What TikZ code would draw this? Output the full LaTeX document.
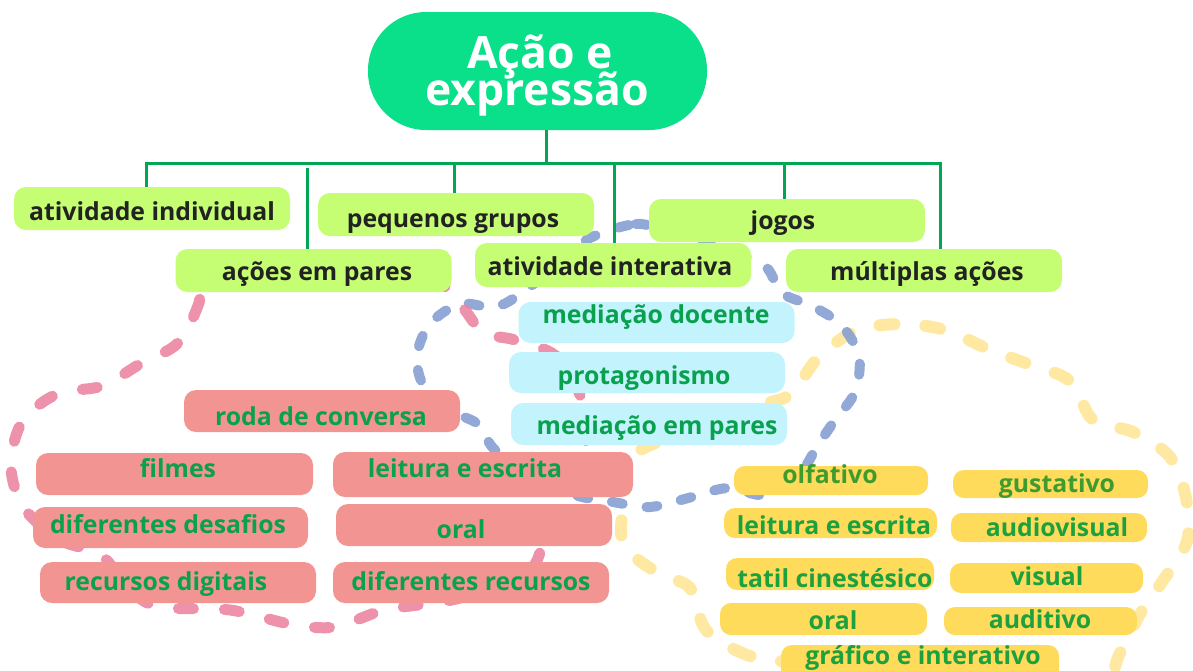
\documentclass[tikz,border=0pt]{standalone}
\usepackage{fontspec}
\IfFontExistsTF{Open Sans Bold}{%
  \setmainfont{Open Sans}[BoldFont={Open Sans Bold}]%
}{%
  \setmainfont{Noto Sans}[AutoFakeBold=2.2]%
}
\definecolor{titleG}{HTML}{0ADF8A}
\definecolor{connG}{HTML}{00A652}
\definecolor{limeF}{HTML}{C5FE72}
\definecolor{darktxt}{HTML}{222222}
\definecolor{cyanF}{HTML}{C3F3FD}
\definecolor{txtG}{HTML}{0AA14E}
\definecolor{salmonF}{HTML}{F29592}
\definecolor{yellowF}{HTML}{FFDB5C}
\definecolor{ytxt}{HTML}{1DA13E}
\definecolor{otxt}{HTML}{3F9B2D}
\definecolor{pinkL}{HTML}{EC86A2}
\definecolor{blueL}{HTML}{869FD3}
\definecolor{yellowL}{HTML}{FFE9A2}
\begin{document}
\begin{tikzpicture}[x=1pt,y=-1pt,
  box/.style={rectangle, rounded corners=12pt, inner sep=0pt, draw=none},
  gbox/.style={box, fill=limeF, minimum width=276pt, minimum height=43pt},
  cbox/.style={box, fill=cyanF, minimum width=276pt, minimum height=41pt},
  sbox/.style={box, fill=salmonF, minimum width=276pt, minimum height=42pt},
  ybox/.style={box, fill=yellowF, rounded corners=11pt, minimum width=194pt, minimum height=30pt},
  lbl/.style={anchor=base, inner sep=0pt, font=\fontsize{24.8}{30}\selectfont\bfseries},
  gtxt/.style={lbl, text=darktxt},
  ctxt/.style={lbl, text=txtG},
  ytx/.style={lbl, text=ytxt},
  otx/.style={lbl, text=otxt},
  ttxt/.style={anchor=base, inner sep=0pt, text=white, font=\fontsize{44.5}{37}\selectfont\bfseries},
  conn/.style={draw=connG, line width=3pt, line join=miter},
  loopP/.style={draw=pinkL, opacity=0.9, line width=11pt, line cap=round, dash pattern=on 15pt off 31pt},
  loopB/.style={draw=blueL, opacity=0.9, line width=10pt, line cap=round, dash pattern=on 11pt off 24pt},
  loopY/.style={draw=yellowL, line width=12pt, line cap=round, dash pattern=on 15pt off 31pt}
]
\useasboundingbox (0,0) rectangle (1193,670);
\begin{scope}
\clip (0,0) rectangle (1193,670);
% dashed loops
\draw[loopY] plot[smooth cycle, tension=0.55] coordinates {
 (793,665) (747,655) (706,630) (690,588) (656,572) (623,543) (625,495) (634,455)
 (690,430) (757,406) (791,394) (817,359) (855,331) (901,324) (945,330) (988,349)
 (1028,364) (1070,381) (1093,420) (1133,432) (1170,457) (1186,498) (1187,541)
 (1162,582) (1140,614) (1120,653) (1090,700) (950,720) (850,700)};
\draw[loopB] plot[smooth cycle, tension=0.55] coordinates {
 (590,238) (636,224) (668,232) (700,243) (735,253) (766,267) (782,293) (812,306)
 (841,325) (859,356) (855,392) (835,420) (818,445) (798,476) (765,495) (728,488)
 (692,497) (650,507) (613,502) (575,495) (535,475) (495,450) (479,425) (457,413)
 (425,388) (417,356) (430,324) (460,304) (495,307) (523,292) (560,262)};
\draw[loopP] plot[smooth cycle, tension=0.55] coordinates {
 (205,272) (199,303) (178,343) (140,364) (102,386) (57,394) (22,422) (11,467)
 (24,508) (60,540) (101,555) (130,590) (160,607) (230,610) (290,624) (335,627)
 (385,610) (460,598) (530,570) (548,520) (572,480) (586,440) (580,395) (556,356)
 (515,340) (484,333) (465,310) (450,290) (400,268) (300,262)};
\end{scope}

% title
\node[box, fill=titleG, rounded corners=58pt, minimum width=339pt, minimum height=118pt] (root) at (537.5,71) {};
\node[ttxt] (root-a) at (540,68) {Ação e};
\node[ttxt] (root-b) at (537,105) {expressão};

% green level
\node[gbox] (ai) at (152,208.5) {};
\node[gtxt] (ai-t) at (152,220) {atividade individual};
\node[gbox] (pg) at (456,214.5) {};
\node[gtxt] (pg-t) at (453,227) {pequenos grupos};
\node[gbox] (jo) at (787,220.5) {};
\node[gtxt] (jo-t) at (783,229) {jogos};
\node[gbox] (ap) at (313.5,270.5) {};
\node[gtxt] (ap-t) at (317,280) {ações em pares};
\node[gbox, minimum height=44pt] (aint) at (613,265) {};
\node[gtxt] (aint-t) at (610,275) {atividade interativa};
\node[gbox] (ma) at (924,270.5) {};
\node[gtxt] (ma-t) at (927,280) {múltiplas ações};

% tree connectors
\coordinate (stem) at (546,163);
\coordinate (b1) at (146,163);
\coordinate (b2) at (307,168);
\coordinate (b3) at (454,163);
\coordinate (b4) at (614,163);
\coordinate (b5) at (784,163);
\coordinate (b6) at (940,163);
\draw[conn] (stem |- root.south) -- (stem);
\draw[conn] (b1 |- ai.north) -- (b1) -- (b6) -- (b6 |- ma.north);
\draw[conn] (b2) -- (b2 |- ap.north);
\draw[conn] (b3) -- (b3 |- pg.north);
\draw[conn] (b4) -- (b4 |- aint.north);
\draw[conn] (b5) -- (b5 |- jo.north);

% cyan boxes
\node[cbox] (md) at (656.5,322.5) {};
\node[ctxt] (md-t) at (656,323.5) {mediação docente};
\node[cbox] (pr) at (647,372.5) {};
\node[ctxt] (pr-t) at (644,384.5) {protagonismo};
\node[cbox, minimum height=42pt] (mp) at (649,424) {};
\node[ctxt] (mp-t) at (657,434.5) {mediação em pares};

% salmon boxes
\node[sbox] (rc) at (322,411) {};
\node[ctxt] (rc-t) at (321,425.5) {roda de conversa};
\node[sbox, minimum width=277pt] (fi) at (174.5,474) {};
\node[ctxt] (fi-t) at (178,477.5) {filmes};
\node[sbox, minimum width=300pt, minimum height=45pt] (le) at (483,474.5) {};
\node[ctxt] (le-t) at (465,477.5) {leitura e escrita};
\node[sbox, minimum width=275pt, minimum height=41pt] (dd) at (170.5,527.5) {};
\node[ctxt] (dd-t) at (168,533.5) {diferentes desafios};
\node[sbox] (or) at (474,525) {};
\node[ctxt] (or-t) at (461,538.5) {oral};
\node[sbox, minimum height=41pt] (rd) at (178,582.5) {};
\node[ctxt] (rd-t) at (166,590.5) {recursos digitais};
\node[sbox, minimum height=41pt] (dr) at (471,582.5) {};
\node[ctxt] (dr-t) at (471,590.5) {diferentes recursos};

% yellow boxes
\node[ybox, minimum height=29pt] (yo) at (831,480.5) {};
\node[otx] (yo-t) at (830,483) {olfativo};
\node[ybox, minimum width=195pt, minimum height=28pt] (yg) at (1050.5,484) {};
\node[otx] (yg-t) at (1057,492) {gustativo};
\node[ybox, minimum width=213pt] (yl) at (830.5,523) {};
\node[ytx] (yl-t) at (834,534) {leitura e escrita};
\node[ybox, minimum width=196pt, minimum height=29pt] (ya) at (1049,527.5) {};
\node[ytx] (ya-t) at (1057,536) {audiovisual};
\node[ybox, minimum width=208pt, minimum height=32pt] (yt) at (830,574) {};
\node[ytx] (yt-t) at (835,587.5) {tatil cinestésico};
\node[ybox, minimum width=193pt] (yv) at (1046.5,578) {};
\node[ytx] (yv-t) at (1047,585.5) {visual};
\node[ybox, minimum width=207pt, minimum height=32pt] (yor) at (823.5,619) {};
\node[ytx] (yor-t) at (833,629.5) {oral};
\node[ybox, minimum width=193pt, minimum height=28pt] (yau) at (1040.5,621) {};
\node[ytx] (yau-t) at (1040,628.5) {auditivo};
\node[ybox, minimum width=278pt, minimum height=36pt] (ygr) at (920,663) {};
\node[ytx] (ygr-t) at (923,664.5) {gráfico e interativo};
\end{tikzpicture}
\end{document}
